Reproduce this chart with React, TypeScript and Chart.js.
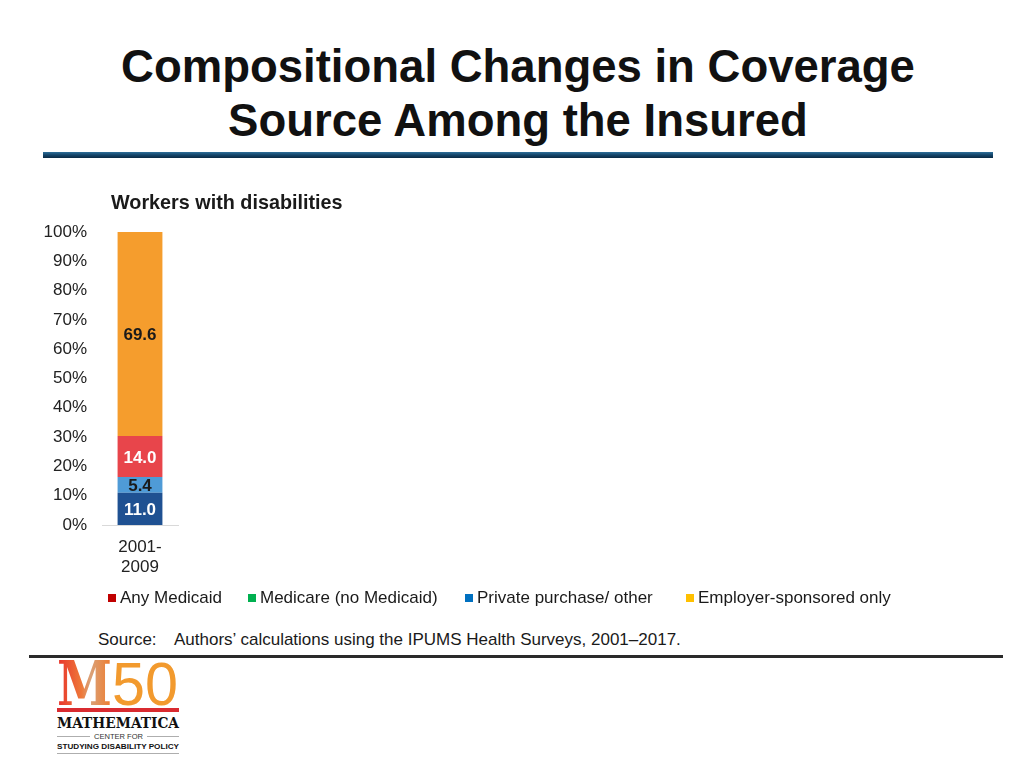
import React, { useEffect, useRef } from "react";
import { Chart, registerables } from "chart.js";

Chart.register(...registerables);

// ---- Data ----
const categories = [["2001-", "2009"]];
const seriesLabels = [
  "Any Medicaid",
  "Medicare (no Medicaid)",
  "Private purchase/ other",
  "Employer-sponsored only",
];
const anyMedicaid = [11.0];
const medicare = [5.4];
const privatePurchase = [14.0];
const employerOnly = [69.6];
const chartSubtitle = "Workers with disabilities";
const yMin = 0;
const yMax = 100;
const yStep = 10;

// ---- Styles ----
const barColors = ["#1f5192", "#4f9bd7", "#e8454b", "#f59d2d"];
const valueLabelColors = ["#ffffff", "#1a1a1a", "#ffffff", "#1a1a1a"];
const legendColors = ["#c00000", "#00b050", "#0070c0", "#ffc000"];
const FONT = "'Liberation Sans', Arial, Helvetica, sans-serif";

const subtitlePlugin = {
  id: "subtitleText",
  afterDraw(chart: any) {
    const ctx = chart.ctx;
    ctx.save();
    ctx.font = `bold 19.8px ${FONT}`;
    ctx.fillStyle = "#1a1a1a";
    ctx.textAlign = "left";
    ctx.textBaseline = "alphabetic";
    ctx.fillText(chartSubtitle, 111, 29);
    ctx.restore();
  },
};

const valueLabelPlugin = {
  id: "valueLabels",
  afterDatasetsDraw(chart: any) {
    const ctx = chart.ctx;
    ctx.save();
    ctx.font = `bold 17px ${FONT}`;
    ctx.textAlign = "center";
    ctx.textBaseline = "alphabetic";
    chart.data.datasets.forEach((ds: any, di: number) => {
      const meta = chart.getDatasetMeta(di);
      meta.data.forEach((el: any, i: number) => {
        const v = ds.data[i];
        const mid = (el.y + el.base) / 2;
        ctx.fillStyle = valueLabelColors[di];
        ctx.fillText(Number(v).toFixed(1), el.x, mid + 6.5);
      });
    });
    ctx.restore();
  },
};

const legendXs = [108, 248, 465, 686];
const customLegendPlugin = {
  id: "customLegend",
  afterDraw(chart: any) {
    const ctx = chart.ctx;
    ctx.save();
    ctx.font = `17px ${FONT}`;
    ctx.textAlign = "left";
    ctx.textBaseline = "alphabetic";
    chart.data.datasets.forEach((ds: any, di: number) => {
      const x = legendXs[di];
      ctx.fillStyle = legendColors[di];
      ctx.fillRect(x, 414, 8, 8);
      ctx.fillStyle = "#1a1a1a";
      ctx.fillText(ds.label, x + 12, 423);
    });
    ctx.restore();
  },
};

function StackedChart() {
  const ref = useRef<HTMLCanvasElement>(null);
  useEffect(() => {
    if (!ref.current) return;
    const chart = new Chart(ref.current, {
      type: "bar",
      data: {
        labels: categories as any,
        datasets: [
          { label: seriesLabels[0], data: anyMedicaid, backgroundColor: barColors[0] },
          { label: seriesLabels[1], data: medicare, backgroundColor: barColors[1] },
          { label: seriesLabels[2], data: privatePurchase, backgroundColor: barColors[2] },
          { label: seriesLabels[3], data: employerOnly, backgroundColor: barColors[3] },
        ].map((d) => ({
          ...d,
          borderWidth: 0,
          barPercentage: 0.59,
          categoryPercentage: 1.0,
        })),
      },
      options: {
        animation: false,
        responsive: false,
        maintainAspectRatio: false,
        layout: { padding: { left: 0, right: 846, top: 52, bottom: 25 } },
        plugins: {
          legend: { display: false },
          title: { display: false },
          tooltip: { enabled: false },
        },
        scales: {
          x: {
            stacked: true,
            grid: { display: true, drawOnChartArea: false, drawTicks: false },
            border: { display: true, color: "#d9d9d9", width: 1 },
            ticks: {
              color: "#222222",
              font: { family: FONT, size: 17 },
              padding: 12,
              maxRotation: 0,
            },
            afterFit: (s: any) => {
              s.height = 70;
            },
          },
          y: {
            stacked: true,
            min: yMin,
            max: yMax,
            grid: { display: false, drawTicks: false },
            border: { display: false },
            ticks: {
              stepSize: yStep,
              color: "#222222",
              font: { family: FONT, size: 17 },
              padding: 15,
              callback: (v: any) => `${v}%`,
            },
            afterFit: (s: any) => {
              s.width = 102;
            },
          },
        },
      },
      plugins: [subtitlePlugin, valueLabelPlugin, customLegendPlugin],
    });
    return () => chart.destroy();
  }, []);
  return (
    <canvas
      ref={ref}
      width={1024}
      height={440}
      style={{ position: "absolute", left: 0, top: 180, width: 1024, height: 440 }}
    />
  );
}

function Logo() {
  return (
    <svg
      width={140}
      height={105}
      viewBox="0 0 140 105"
      style={{ position: "absolute", left: 50, top: 655 }}
    >
      <defs>
        <linearGradient id="mgrad" x1="0" y1="0" x2="1" y2="0">
          <stop offset="0" stopColor="#e8312b" />
          <stop offset="0.45" stopColor="#ee7a3a" />
          <stop offset="0.6" stopColor="#d9a27a" />
          <stop offset="1" stopColor="#f07a2a" />
        </linearGradient>
      </defs>
      <text
        x={7}
        y={50}
        fontFamily="'DejaVu Serif', 'Liberation Serif', serif"
        fontWeight="bold"
        fontSize={61}
        textLength={55}
        lengthAdjust="spacingAndGlyphs"
        fill="url(#mgrad)"
      >
        M
      </text>
      <text
        x={62}
        y={50}
        fontFamily={FONT}
        fontSize={61}
        textLength={66}
        lengthAdjust="spacingAndGlyphs"
        fill="#f29a2e"
      >
        50
      </text>
      <rect x={7} y={53} width={122} height={4} fill="#d92b30" />
      <text
        x={7}
        y={73}
        fontFamily="'DejaVu Serif', serif"
        fontWeight="bold"
        fontSize={15}
        textLength={122}
        lengthAdjust="spacingAndGlyphs"
        fill="#111"
      >
        MATHEMATICA
      </text>
      <line x1={7} y1={81.5} x2={40} y2={81.5} stroke="#999" strokeWidth={0.8} />
      <line x1={97} y1={81.5} x2={129} y2={81.5} stroke="#999" strokeWidth={0.8} />
      <text
        x={44}
        y={84}
        fontFamily={FONT}
        fontSize={7}
        textLength={49}
        lengthAdjust="spacingAndGlyphs"
        fill="#333"
      >
        CENTER FOR
      </text>
      <text
        x={7}
        y={94}
        fontFamily={FONT}
        fontWeight="bold"
        fontSize={7.5}
        textLength={122}
        lengthAdjust="spacingAndGlyphs"
        fill="#111"
      >
        STUDYING DISABILITY POLICY
      </text>
      <line x1={7} y1={98.5} x2={129} y2={98.5} stroke="#999" strokeWidth={0.8} />
    </svg>
  );
}

export default function App() {
  return (
    <div
      style={{
        position: "absolute",
        left: 0,
        top: 0,
        width: 1024,
        height: 768,
        background: "#ffffff",
        overflow: "hidden",
        fontFamily: FONT,
      }}
    >
      <div
        style={{
          position: "absolute",
          top: 40,
          left: 0,
          width: 1036,
          textAlign: "center",
          fontWeight: "bold",
          fontSize: 45.5,
          lineHeight: "54px",
          color: "#111111",
        }}
      >
        Compositional Changes in Coverage
        <br />
        Source Among the Insured
      </div>
      <div
        style={{
          position: "absolute",
          left: 43,
          top: 152,
          width: 950,
          height: 6,
          background: "linear-gradient(to bottom, #2e6f9a 0%, #14456a 50%, #0a2a44 100%)",
        }}
      />
      <StackedChart />
      <div
        style={{
          position: "absolute",
          left: 98,
          top: 630,
          fontSize: 17,
          lineHeight: "20px",
          color: "#1a1a1a",
          whiteSpace: "nowrap",
        }}
      >
        Source:
      </div>
      <div
        style={{
          position: "absolute",
          left: 174,
          top: 630,
          fontSize: 17,
          lineHeight: "20px",
          color: "#1a1a1a",
          whiteSpace: "nowrap",
        }}
      >
        Authors’ calculations using the IPUMS Health Surveys, 2001–2017.
      </div>
      <div
        style={{
          position: "absolute",
          left: 29,
          top: 655,
          width: 974,
          height: 3,
          background: "#2a2a2a",
        }}
      />
      <Logo />
    </div>
  );
}
